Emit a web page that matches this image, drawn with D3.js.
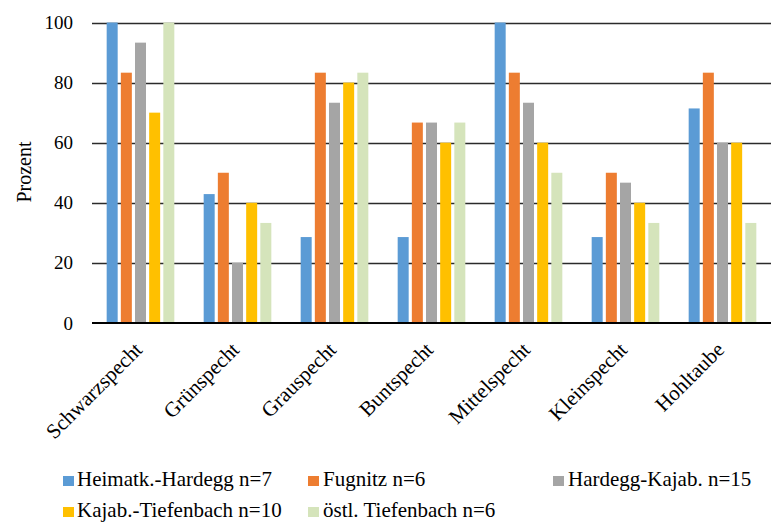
<!DOCTYPE html>
<html>
<head>
<meta charset="utf-8">
<script src="https://cdn.jsdelivr.net/npm/d3@7"></script>
<style>
  html, body { margin: 0; padding: 0; background: #fff; }
  svg { display: block; }
  svg text { font-family: 'Liberation Serif', 'Times New Roman', Times, serif; fill: #000; }
</style>
</head>
<body>
<svg id="chart" width="771" height="522"></svg>
<script>
// Bird species (categories)
const species = ["Schwarzspecht", "Grünspecht", "Grauspecht", "Buntspecht", "Mittelspecht", "Kleinspecht", "Hohltaube"];

// Survey sections (series)
const sections = ["Heimatk.-Hardegg n=7", "Fugnitz n=6", "Hardegg-Kajab. n=15", "Kajab.-Tiefenbach n=10", "östl. Tiefenbach n=6"];

// Share of sites with the species, in percent, one array per section
const heimatkHardegg   = [100, 42.9, 28.6, 28.6, 100, 28.6, 71.4];
const fugnitz          = [83.3, 50, 83.3, 66.7, 83.3, 50, 83.3];
const hardeggKajab     = [93.3, 20, 73.3, 66.7, 73.3, 46.7, 60];
const kajabTiefenbach  = [70, 40, 80, 60, 60, 40, 60];
const oestlTiefenbach  = [100, 33.3, 83.3, 66.7, 50, 33.3, 33.3];

// Y axis ticks
const yTicks = [0, 20, 40, 60, 80, 100];

const seriesValues = [heimatkHardegg, fugnitz, hardeggKajab, kajabTiefenbach, oestlTiefenbach];
const colors = ["#5B9BD5", "#ED7D31", "#A5A5A5", "#FFC000", "#D5E4BB"];
const serif = "'Liberation Serif', 'Times New Roman', Times, serif";

const svg = d3.select("#chart").attr("font-family", serif);
const plotLeft = 92, plotRight = 771, plotTop = 22.5, plotBottom = 323;

const x = d3.scaleBand().domain(species).range([plotLeft, plotRight]).paddingInner(0.27).paddingOuter(0.135);
const xs = d3.scaleBand().domain(d3.range(sections.length)).range([0, x.bandwidth()]);
const y = d3.scaleLinear().domain([0, 100]).range([plotBottom, plotTop]);

// Gridlines
svg.append("g")
  .selectAll("line")
  .data(yTicks.filter(t => t > 0))
  .join("line")
  .attr("x1", plotLeft).attr("x2", plotRight)
  .attr("y1", d => Math.round(y(d)) + 0.5).attr("y2", d => Math.round(y(d)) + 0.5)
  .attr("stroke", "#2b2b2b").attr("stroke-width", 1.3);

// Bars
const barW = 11;
const groups = svg.append("g")
  .selectAll("g")
  .data(species)
  .join("g")
  .attr("transform", d => `translate(${x(d)},0)`);

groups.selectAll("rect")
  .data((d, i) => seriesValues.map((s, k) => ({ k, v: s[i] })))
  .join("rect")
  .attr("x", d => xs(d.k) + (xs.bandwidth() - barW) / 2)
  .attr("width", barW)
  .attr("y", d => y(d.v))
  .attr("height", d => y(0) - y(d.v))
  .attr("fill", d => colors[d.k]);

// Baseline axis
svg.append("line")
  .attr("x1", plotLeft).attr("x2", plotRight)
  .attr("y1", plotBottom).attr("y2", plotBottom)
  .attr("stroke", "#000").attr("stroke-width", 2.2);

// Y axis labels
const yAxis = d3.axisLeft(y).tickValues(yTicks).tickSize(0).tickPadding(0);
const ya = svg.append("g").attr("transform", `translate(${plotLeft - 19},0)`).call(yAxis);
ya.attr("font-family", serif).attr("font-size", 19);
ya.select(".domain").remove();
ya.selectAll("text").attr("fill", "#000");

// X axis labels (rotated)
const xAxis = d3.axisBottom(x).tickSize(0).tickPadding(0);
const xa = svg.append("g").attr("transform", `translate(0,${plotBottom})`).call(xAxis);
xa.attr("font-family", serif).attr("font-size", 21);
xa.select(".domain").remove();
xa.selectAll("text")
  .attr("fill", "#000")
  .attr("text-anchor", "end")
  .attr("dy", null)
  .attr("y", 0)
  .attr("transform", "translate(3,28) rotate(-45)");

// Y axis title
svg.append("text")
  .attr("transform", "translate(31,172) rotate(-90)")
  .attr("text-anchor", "middle")
  .attr("font-size", 20)
  .text("Prozent");

// Legend: [marker x, baseline y, text x]
const legendPos = [
  [63, 486, 77], [308, 486, 323], [553, 486, 568],
  [63, 517, 77], [308, 517, 323]
];
const lg = svg.append("g")
  .attr("font-size", 21)
  .selectAll("g")
  .data(sections)
  .join("g");
lg.append("rect")
  .attr("x", (d, i) => legendPos[i][0])
  .attr("y", (d, i) => legendPos[i][1] - 10)
  .attr("width", 11).attr("height", 10)
  .attr("fill", (d, i) => colors[i]);
lg.append("text")
  .attr("x", (d, i) => legendPos[i][2])
  .attr("y", (d, i) => legendPos[i][1])
  .text(d => d);
</script>
</body>
</html>
